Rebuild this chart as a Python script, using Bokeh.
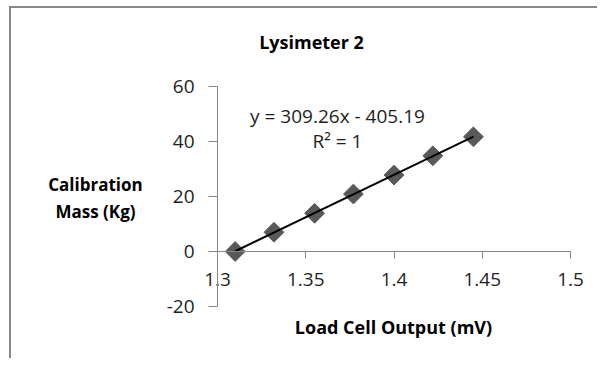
import numpy as np
from bokeh.plotting import figure
from bokeh.models import Range1d, LinearAxis, FixedTicker, Label
from bokeh.embed import file_html
from bokeh.resources import INLINE

# ---- data ----
chart_title = "Lysimeter 2"
x_title = "Load Cell Output (mV)"
y_title_lines = ["Calibration", "Mass (Kg)"]
load_cell_mv = [1.310, 1.332, 1.355, 1.377, 1.400, 1.422, 1.445]
mass_kg = [0.0, 7.0, 13.9, 20.9, 27.8, 34.8, 41.7]
x_ticks = [1.3, 1.35, 1.4, 1.45, 1.5]
x_tick_labels = ["1.3", "1.35", "1.4", "1.45", "1.5"]
y_ticks = [-20, 0, 20, 40, 60]
y_tick_labels = ["-20", "0", "20", "40", "60"]
equation_text = "y = 309.26x - 405.19"
r2_text = "R\u00b2 = 1"

FONT = "Open Sans"
AXIS_GRAY = "#868686"
TEXT = "#1e1e1e"

# ---- layout (page pixels) ----
W, H = 588, 352
CANVAS_X0, CANVAS_Y0 = 11, 8           # after 9px/6px margin + 2px border
PLOT_L, PLOT_R = 217, 570              # pixel of x_ticks[0], x_ticks[-1]
PLOT_T, PLOT_B = 86, 306               # pixel of y_ticks[-1], y_ticks[0]

xppu = (PLOT_R - PLOT_L) / (x_ticks[-1] - x_ticks[0])
yppu = (PLOT_B - PLOT_T) / (y_ticks[-1] - y_ticks[0])


def dx(px):
    return x_ticks[0] + (px - PLOT_L) / xppu


def dy(py):
    return y_ticks[-1] - (py - PLOT_T) / yppu


x_range = Range1d(dx(CANVAS_X0), dx(CANVAS_X0 + W))
y_range = Range1d(dy(CANVAS_Y0 + H), dy(CANVAS_Y0))

p = figure(width=W, height=H, x_range=x_range, y_range=y_range, title=None,
           output_backend="svg", toolbar_location=None,
           x_axis_location=None, y_axis_location=None,
           min_border=0,
           background_fill_color="white", border_fill_color="white",
           outline_line_color=None,
           styles={"margin-left": "9px", "margin-top": "6px",
                   "border-left": "2px solid #888888",
                   "border-top": "2px solid #888888"})
p.grid.grid_line_color = None

# y axis at x = 1.3
ya = LinearAxis(fixed_location=x_ticks[0], bounds=(y_ticks[0], y_ticks[-1]),
                ticker=FixedTicker(ticks=y_ticks),
                major_label_overrides={t: l for t, l in zip(y_ticks, y_tick_labels)})
ya.axis_line_color = AXIS_GRAY
ya.major_tick_line_color = AXIS_GRAY
ya.major_tick_out = 9
ya.major_tick_in = 0
ya.minor_tick_line_color = None
ya.major_label_text_font = FONT
ya.major_label_text_font_size = "19px"
ya.major_label_text_color = TEXT
ya.major_label_standoff = 14
p.add_layout(ya, "left")

# x axis crossing at y = 0
xa = LinearAxis(fixed_location=0, bounds=(x_ticks[0], x_ticks[-1]),
                ticker=FixedTicker(ticks=x_ticks),
                major_label_overrides={t: l for t, l in zip(x_ticks, x_tick_labels)})
xa.axis_line_color = AXIS_GRAY
xa.major_tick_line_color = AXIS_GRAY
xa.major_tick_out = 7
xa.major_tick_in = 0
xa.minor_tick_line_color = None
xa.major_label_text_font = FONT
xa.major_label_text_font_size = "19px"
xa.major_label_text_color = TEXT
xa.major_label_standoff = 14
p.add_layout(xa, "below")


def add_text(px, py, text, size, bold=False, color="#000000"):
    p.add_layout(Label(x=dx(px), y=dy(py), text=text, text_align="center",
                       text_baseline="middle", text_font=FONT,
                       text_font_size=size,
                       text_font_style="bold" if bold else "normal",
                       text_color=color))


# titles
add_text(311, 41, chart_title, "18px", bold=True)
add_text(393, 326, x_title, "18px", bold=True)
for line, cy in zip(y_title_lines, [184, 211]):
    add_text(95, cy, line, "17px", bold=True)

# data
p.scatter(load_cell_mv, mass_kg, marker="square", angle=np.pi / 4, size=14,
          fill_color="#595959", line_color="#595959")

slope, intercept = np.polyfit(load_cell_mv, mass_kg, 1)
fx = [min(load_cell_mv), max(load_cell_mv)]
fy = [slope * v + intercept for v in fx]
p.line(fx, fy, line_color="#000000", line_width=2)

add_text(337, 115, equation_text, "19px", color=TEXT)
add_text(337, 140, r2_text, "19px", color=TEXT)

open("out.html", "w").write(file_html(p, INLINE))
